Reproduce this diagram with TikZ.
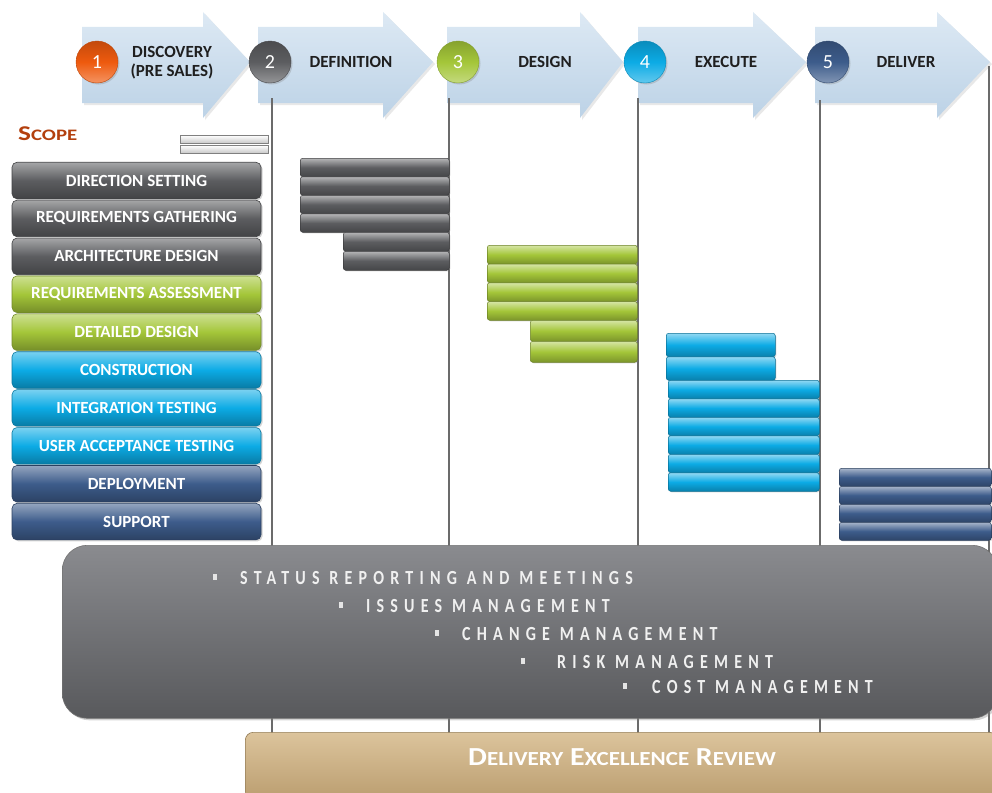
\documentclass[tikz,border=0pt]{standalone}
\usepackage{fontspec}
\setmainfont{Carlito}
\newfontfamily\trackfont[LetterSpace=31,FakeStretch=0.8]{Carlito}
\newfontfamily\narrowfont[FakeStretch=1.15]{Carlito}
\newfontfamily\widefont[FakeStretch=1.3]{Carlito}
\usetikzlibrary{shadows}

\definecolor{arrowtop}{HTML}{DDE9F4}
\definecolor{arrowbot}{HTML}{BCD2E6}
\definecolor{phgray}{HTML}{5C5D60}
\definecolor{phgreen}{HTML}{A4C639}
\definecolor{phcyan}{HTML}{0CABE5}
\definecolor{phnavy}{HTML}{3D5C8B}
\definecolor{phorange}{HTML}{EE5A0E}
\definecolor{scopered}{HTML}{B3400E}
\definecolor{tantop}{HTML}{DCC49C}
\definecolor{tanbot}{HTML}{B99C6E}
\definecolor{gridline}{HTML}{6B6B6B}
\definecolor{paneltop}{HTML}{8A8B8F}
\definecolor{panelbot}{HTML}{58595C}

% two-size caps used for headings
\newcommand\dxsc[4]{{\fontsize{#1}{#1}\selectfont #3}{\fontsize{#2}{#2}\selectfont #4}}

\tikzset{
  phasearrow/.style={top color=arrowtop, bottom color=arrowbot,
    drop shadow={opacity=0.18, shadow xshift=2pt, shadow yshift=-2pt}},
  phasenum/.style={circle, minimum size=42pt, inner sep=0pt,
    top color=#1!82!black, bottom color=#1!65!white, middle color=#1,
    draw=#1!80!black, line width=0.4pt,
    drop shadow={opacity=0.3, shadow xshift=1.5pt, shadow yshift=-1.5pt},
    text=white, font=\fontsize{20}{20}\selectfont},
  phasetitle/.style={text=black!88, font=\bfseries\fontsize{17}{19}\selectfont, align=center},
  gridrule/.style={draw=gridline, line width=1.8pt},
  phasebox/.style={draw=#1!70!black, line width=0.6pt, rounded corners=5pt,
    top color=#1!55!white, bottom color=#1!72!black, middle color=#1,
    minimum width=249pt, minimum height=36.5pt, inner sep=0pt,
    text=white, font=\bfseries\fontsize{17}{17}\selectfont,
    drop shadow={opacity=0.35, shadow xshift=1.5pt, shadow yshift=-1.5pt}},
  ganttbar/.style={draw=#1!65!black, line width=0.5pt, rounded corners=2.5pt,
    top color=#1!45!white, bottom color=#1!75!black, middle color=#1,
    anchor=north west, inner sep=0pt,
    drop shadow={opacity=0.3, shadow xshift=1pt, shadow yshift=-1pt}},
  scopebar/.style={draw=black!50, line width=0.6pt, top color=white, bottom color=black!22,
    anchor=north west, inner sep=0pt, minimum width=88pt, minimum height=8pt},
  bulletmark/.style={fill=black!10, inner sep=0pt, minimum width=4pt, minimum height=6pt},
  bullettext/.style={anchor=west, inner sep=0pt, text=black!6,
    font=\trackfont\bfseries\fontsize{20}{20}\selectfont},
}

\begin{document}
\begin{tikzpicture}[x=1pt,y=-1pt]
\useasboundingbox (0,0) rectangle (992,792);

% phase arrows
\foreach \xa/\xb/\xc in {82/203/250, 258/383/433, 447/580/623, 638/753/806, 815/937/990}{
  \path[phasearrow] (\xa,27) -- (\xb,27) -- (\xb,12) -- (\xc,62) -- (\xb,118) -- (\xb,103) -- (\xa,103) -- cycle;
}

% phase boundaries
\coordinate (l1t) at (272,98);  \coordinate (l1b) at (272,734);
\coordinate (l2t) at (449,98);  \coordinate (l2b) at (449,734);
\coordinate (l3t) at (638,98);  \coordinate (l3b) at (638,734);
\coordinate (l4t) at (820,100); \coordinate (l4b) at (820,734);
\coordinate (l5t) at (989,66);  \coordinate (l5b) at (989,734);
\foreach \k in {1,...,5}{ \draw[gridrule] (l\k t) -- (l\k b); }

% phase numbers and titles
\node[phasenum=phorange] (n1) at (97,62) {1};
\node[phasenum=phgray] (n2) at (270,62) {2};
\node[phasenum=phgreen] (n3) at (458,62) {3};
\node[phasenum=phcyan] (n4) at (645,62) {4};
\node[phasenum=phnavy] (n5) at (828,62) {5};

\node[phasetitle] (t1) at (172,63) {DISCOVERY\\(PRE SALES)};
\node[phasetitle] (t2) at (351,62) {DEFINITION};
\node[phasetitle] (t3) at (545,62) {DESIGN};
\node[phasetitle] (t4) at (726,62) {EXECUTE};
\node[phasetitle] (t5) at (906,62) {DELIVER};

% scope heading
\node[anchor=west, inner sep=0pt, text=scopered, font=\widefont\bfseries] (scope) at (18,134)
  {\dxsc{21}{16}{S}{COPE}};
\node[scopebar] (sb1) at (180,135) {};
\node[scopebar] (sb2) at (180,145) {};

% activity labels
\foreach \i/\txt/\col in {0/DIRECTION SETTING/phgray, 1/REQUIREMENTS GATHERING/phgray,
  2/ARCHITECTURE DESIGN/phgray, 3/REQUIREMENTS ASSESSMENT/phgreen, 4/DETAILED DESIGN/phgreen,
  5/CONSTRUCTION/phcyan, 6/INTEGRATION TESTING/phcyan, 7/USER ACCEPTANCE TESTING/phcyan,
  8/DEPLOYMENT/phnavy, 9/SUPPORT/phnavy}{
  \node[phasebox=\col] (act\i) at (136.5,180.5+37.9*\i) {\txt};
}

% definition bars
\foreach \k/\y in {1/158, 2/176.5, 3/195, 4/213.5}{
  \node[ganttbar=phgray, minimum width=149pt, minimum height=18.5pt] (gd\k) at (300,\y) {};
}
\node[ganttbar=phgray, minimum width=106pt, minimum height=19pt] (gd5) at (343,232) {};
\node[ganttbar=phgray, minimum width=106pt, minimum height=19pt] (gd6) at (343,251) {};

% design bars
\foreach \k/\y in {1/245, 2/263.75, 3/282.5, 4/301.25}{
  \node[ganttbar=phgreen, minimum width=150pt, minimum height=18.75pt] (gs\k) at (487,\y) {};
}
\node[ganttbar=phgreen, minimum width=107pt, minimum height=21pt] (gs5) at (530,320) {};
\node[ganttbar=phgreen, minimum width=107pt, minimum height=21pt] (gs6) at (530,341) {};

% execute bars
\node[ganttbar=phcyan, minimum width=109pt, minimum height=23.5pt] (ge1) at (666,333) {};
\node[ganttbar=phcyan, minimum width=109pt, minimum height=23.5pt] (ge2) at (666,356.5) {};
\foreach \k in {0,...,5}{
  \node[ganttbar=phcyan, minimum width=151pt, minimum height=18.5pt] (gx\k) at (668,380+18.5*\k) {};
}

% deliver bars
\foreach \k in {0,...,3}{
  \node[ganttbar=phnavy, minimum width=152pt, minimum height=18pt] (gv\k) at (839,468+18*\k) {};
}

% management panel
\node[anchor=north west, minimum width=935pt, minimum height=173pt, inner sep=0pt,
  rounded corners=25pt, draw=black!55, line width=0.6pt,
  top color=paneltop, bottom color=panelbot,
  drop shadow={opacity=0.35, shadow xshift=2pt, shadow yshift=-2pt}] (panel) at (62,545) {};

\node[bulletmark] (b1) at (215,577) {};
\node[bullettext] (s1) at (240,578) {STATUS REPORTING AND MEETINGS};
\node[bulletmark] (b2) at (341,605) {};
\node[bullettext] (s2) at (366,606) {ISSUES MANAGEMENT};
\node[bulletmark] (b3) at (437,633) {};
\node[bullettext] (s3) at (462,634) {CHANGE MANAGEMENT};
\node[bulletmark] (b4) at (523,661) {};
\node[bullettext] (s4) at (557,662) {RISK MANAGEMENT};
\node[bulletmark] (b5) at (625,686) {};
\node[bullettext] (s5) at (652,687) {COST MANAGEMENT};

% review banner
\node[anchor=north west, minimum width=752pt, minimum height=70pt, inner sep=0pt,
  rounded corners=8pt, draw=tanbot!80!black, line width=0.6pt,
  top color=tantop, bottom color=tanbot,
  drop shadow={opacity=0.3, shadow xshift=1.5pt, shadow yshift=-1.5pt}] (review) at (245,732) {};
\node[text=white, font=\narrowfont\bfseries\fontsize{26}{26}\selectfont] (reviewtext) at (622,757)
  {\dxsc{26}{20}{D}{ELIVERY} \dxsc{26}{20}{E}{XCELLENCE} \dxsc{26}{20}{R}{EVIEW}};

\end{tikzpicture}
\end{document}
